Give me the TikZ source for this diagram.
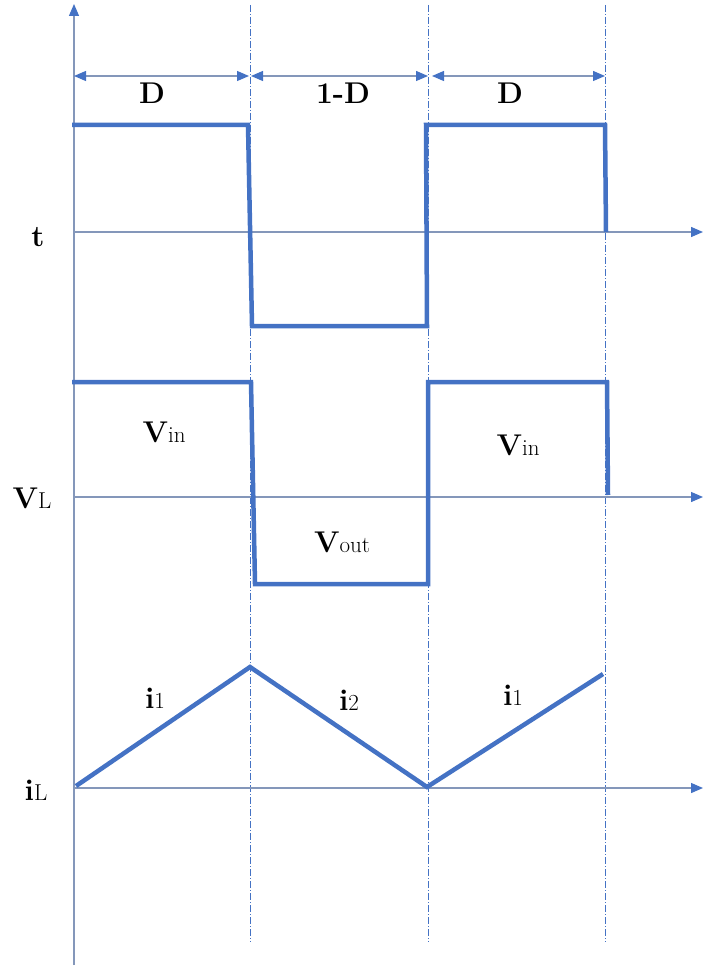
\documentclass[tikz,border=0pt]{standalone}
\usepackage{fontspec}
\usetikzlibrary{arrows.meta}
\definecolor{wave}{RGB}{68,114,196}
\definecolor{axiscol}{RGB}{132,151,186}
\tikzset{
  tipw/.tip={Triangle[length=12pt,width=10pt,color=wave]},
  axisline/.style={draw=axiscol, line width=1.3pt, -tipw},
  dimline/.style={draw=axiscol, line width=1.3pt, tipw-tipw},
  guide/.style={draw=wave, line width=0.7pt, dash pattern=on 7pt off 2pt on 1pt off 2pt},
  wavefm/.style={draw=wave, line width=4.5pt, line join=miter},
  lbl/.style={font=\fontsize{30}{32}\selectfont\bfseries, inner sep=0pt, text=black},
}
\newcommand\subtxt[1]{{\fontsize{23}{23}\selectfont\mdseries #1}}
\begin{document}
\begin{tikzpicture}[x=1pt,y=-1pt]
\useasboundingbox (0,0) rectangle (703,968);
% axes
\coordinate (ybot) at (74,965);
\coordinate (ytop) at (74,4);
\coordinate (t0) at (74,232);   \coordinate (t1) at (703,232);
\coordinate (v0) at (74,497);   \coordinate (v1) at (703,497);
\coordinate (i0) at (74,788);   \coordinate (i1) at (703,788);
% guides
\coordinate (g1a) at (250,5);  \coordinate (g1b) at (250,942);
\coordinate (g2a) at (428,5);  \coordinate (g2b) at (428,942);
\coordinate (g3a) at (605,5);  \coordinate (g3b) at (605,942);
\draw[guide] (g1a) -- (g1b);
\draw[guide] (g2a) -- (g2b);
\draw[guide] (g3a) -- (g3b);
\draw[axisline] (ybot) -- (ytop);
\draw[axisline] (t0) -- (t1);
\draw[axisline] (v0) -- (v1);
\draw[axisline] (i0) -- (i1);
% dimension lines
\coordinate (d0) at (74,76);  \coordinate (d1) at (249,76);
\coordinate (d2) at (251,76); \coordinate (d3) at (428,76);
\coordinate (d4) at (432,76); \coordinate (d5) at (605,76);
\draw[dimline] (d0) -- (d1);
\draw[dimline] (d2) -- (d3);
\draw[dimline] (d4) -- (d5);
% waveform t
\coordinate (a1) at (72,125);  \coordinate (a2) at (248,125);
\coordinate (a3) at (252,326); \coordinate (a4) at (427,326);
\coordinate (a5) at (426,125); \coordinate (a6) at (605,125);
\coordinate (a7) at (606,232);
\draw[wavefm] (a1) -- (a2) -- (a3) -- (a4) -- (a5) -- (a6) -- (a7);
% waveform VL
\coordinate (b1) at (72,382);  \coordinate (b2) at (251,382);
\coordinate (b3) at (255,584); \coordinate (b4) at (428,584);
\coordinate (b5) at (428,382); \coordinate (b6) at (607,382);
\coordinate (b7) at (608,495);
\draw[wavefm] (b1) -- (b2) -- (b3) -- (b4) -- (b5) -- (b6) -- (b7);
% waveform iL
\coordinate (c1) at (76,786);  \coordinate (c2) at (250,667);
\coordinate (c3) at (427,787); \coordinate (c4) at (603,674);
\draw[wavefm] (c1) -- (c2) -- (c3) -- (c4);
% labels
\node[lbl] (lD1) at (152,93) {D};
\node[lbl] (lD2) at (343,93) {1-D};
\node[lbl] (lD3) at (510,93) {D};
\node[lbl] (lt) at (38,237) {t};
\node[lbl] (lVL) at (32,498) {V\subtxt{L}};
\node[lbl] (lVin1) at (164,432) {V\subtxt{in}};
\node[lbl] (lVout) at (342,542) {V\subtxt{out}};
\node[lbl] (lVin2) at (518,445) {V\subtxt{in}};
\node[lbl] (liL) at (36,790) {i\subtxt{L}};
\node[lbl] (li1a) at (155,698) {i\subtxt{1}};
\node[lbl] (li2) at (349,700) {i\subtxt{2}};
\node[lbl] (li1b) at (513,695) {i\subtxt{1}};
\end{tikzpicture}
\end{document}
